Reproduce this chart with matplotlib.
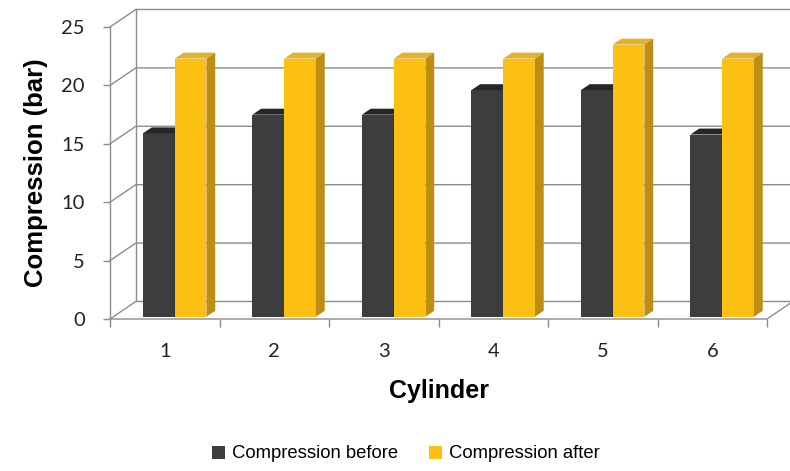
import numpy as np
import matplotlib.pyplot as plt
from matplotlib.patches import Polygon

cylinders = ['1', '2', '3', '4', '5', '6']
before = [15.7, 17.3, 17.3, 19.4, 19.4, 15.6]   # Compression before (bar)
after = [22.1, 22.1, 22.1, 22.1, 23.3, 22.1]    # Compression after (bar)
yticks = [0, 5, 10, 15, 20, 25]

# oblique "3D" look: depth offset of the back wall in data units
DX, DY = 0.236, 1.5
D0, D1 = 0.13, 0.47          # depth span of the columns
bw = 0.29                    # column width
left0 = 0.27                 # first column offset inside a category

grid_col = '#8c8c8c'
styles = [  # front, top, side
    ('#3b3d3f', '#262626', '#1e1e1e'),
    ('#fcc012', '#e3b12c', '#bd8e14'),
]
names = ['Compression before', 'Compression after']

fig = plt.figure(figsize=(7.9, 4.71), dpi=100)
ax = fig.add_axes([110/790, 152/471, 657/790, 292/471])
ax.set_xlim(0, 6)
ax.set_ylim(0, 25)
for s in ax.spines.values():
    s.set_visible(False)

n = len(cylinders)
# side wall + back wall gridlines
for v in yticks:
    ax.plot([0, DX, n + DX], [v, v + DY, v + DY], color=grid_col, lw=1.0,
            clip_on=False, zorder=1)
ax.plot([DX, DX], [DY, 25 + DY], color=grid_col, lw=1.0, clip_on=False, zorder=1)
# front axis lines and floor edge
ax.plot([0, 0], [0, 25], color=grid_col, lw=1.0, clip_on=False, zorder=2)
ax.plot([0, n, n + DX], [0, 0, DY], color=grid_col, lw=1.0, clip_on=False, zorder=2)

handles = []
for k, (vals, (fc, tc, sc)) in enumerate(zip([before, after], styles)):
    xs = np.arange(n) + left0 + k * bw
    bars = ax.bar(xs + D0 * DX, vals, bw, bottom=D0 * DY, align='edge',
                  color=fc, lw=0, zorder=3, label=names[k])
    handles.append(bars)
    for x0, v in zip(xs, vals):
        x1 = x0 + bw
        top = [(x0 + D0 * DX, v + D0 * DY), (x1 + D0 * DX, v + D0 * DY),
               (x1 + D1 * DX, v + D1 * DY), (x0 + D1 * DX, v + D1 * DY)]
        side = [(x1 + D0 * DX, D0 * DY), (x1 + D1 * DX, D1 * DY),
                (x1 + D1 * DX, v + D1 * DY), (x1 + D0 * DX, v + D0 * DY)]
        ax.add_patch(Polygon(top, closed=True, fc=tc, ec='none', zorder=3))
        ax.add_patch(Polygon(side, closed=True, fc=sc, ec='none', zorder=3))

ax.set_yticks(yticks)
ax.set_xticks(np.arange(n) + 0.5, cylinders)
ax.set_xticks(np.arange(n + 1), minor=True)
ax.tick_params(axis='y', length=5, width=1, color=grid_col, pad=13,
               labelsize=14.5, labelcolor='#222222')
ax.tick_params(axis='x', which='major', length=0, pad=17,
               labelsize=14.5, labelcolor='#222222')
ax.tick_params(axis='x', which='minor', length=6, width=1, color=grid_col)
for lab in ax.get_xticklabels() + ax.get_yticklabels():
    lab.set_family('Lato')

ax.set_xlabel('Cylinder', fontsize=18, fontweight='bold',
              family='Liberation Sans', labelpad=14)
ax.set_ylabel('Compression (bar)', fontsize=18.5, fontweight='bold',
              family='Liberation Sans', labelpad=10)

fig.legend(handles=handles, loc='center', bbox_to_anchor=(406/790, 1 - 454/471),
           ncol=2, frameon=False, handlelength=0.7, handleheight=0.7,
           handletextpad=0.35, columnspacing=1.7,
           prop={'family': 'Liberation Sans', 'size': 13.3})

fig.savefig('out.png', dpi=100, facecolor='white')
